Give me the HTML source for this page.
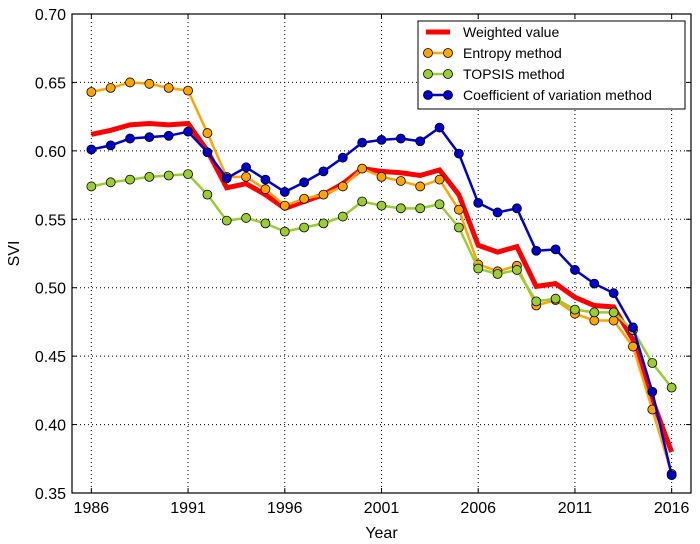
<!DOCTYPE html>
<html><head><meta charset="utf-8"><style>
html,body{margin:0;padding:0;background:#fff;}
svg{display:block;font-family:"Liberation Sans","DejaVu Sans",sans-serif;}
</style></head><body>
<svg id="chart" width="700" height="544" viewBox="0 0 700 544"></svg>
<script>
const years = [1986,1987,1988,1989,1990,1991,1992,1993,1994,1995,1996,1997,1998,1999,2000,2001,2002,2003,2004,2005,2006,2007,2008,2009,2010,2011,2012,2013,2014,2015,2016];
const weighted = [0.612,0.615,0.619,0.620,0.619,0.620,0.600,0.573,0.576,0.568,0.558,0.563,0.568,0.576,0.587,0.585,0.584,0.582,0.586,0.568,0.531,0.526,0.530,0.501,0.503,0.493,0.487,0.486,0.462,0.418,0.380];
const entropy = [0.643,0.646,0.650,0.649,0.646,0.644,0.613,0.581,0.581,0.572,0.560,0.565,0.568,0.574,0.587,0.581,0.578,0.574,0.579,0.557,0.517,0.512,0.516,0.487,0.491,0.481,0.476,0.476,0.457,0.411,0.364];
const topsis = [0.574,0.577,0.579,0.581,0.582,0.583,0.568,0.549,0.551,0.547,0.541,0.544,0.547,0.552,0.563,0.560,0.558,0.558,0.561,0.544,0.514,0.510,0.513,0.490,0.492,0.484,0.482,0.482,0.469,0.445,0.427];
const cv = [0.601,0.604,0.609,0.610,0.611,0.614,0.599,0.580,0.588,0.579,0.570,0.577,0.585,0.595,0.606,0.608,0.609,0.607,0.617,0.598,0.562,0.555,0.558,0.527,0.528,0.513,0.503,0.496,0.471,0.424,0.363];
const xTicks = [1986,1991,1996,2001,2006,2011,2016];
const yTicks = [0.35,0.40,0.45,0.50,0.55,0.60,0.65,0.70];

const NS='http://www.w3.org/2000/svg';
const svg=document.getElementById('chart');
const L=72,R=691,T=14,B=493, X0=1985,X1=2017,Y0=0.35,Y1=0.70;
const xs=v=>L+(v-X0)/(X1-X0)*(R-L);
const ys=v=>B-(v-Y0)/(Y1-Y0)*(B-T);
function mk(tag,attrs,parent){const e=document.createElementNS(NS,tag);for(const k in attrs)e.setAttribute(k,attrs[k]);(parent||svg).appendChild(e);return e;}

const grid=mk('g',{});


xTicks.forEach(t=>{
  mk('line',{x1:xs(t),x2:xs(t),y1:T,y2:B,stroke:'#000','stroke-width':1,'stroke-dasharray':'1,3'},grid);
  mk('line',{x1:xs(t),x2:xs(t),y1:B,y2:B-5,stroke:'#000'},grid);
  mk('line',{x1:xs(t),x2:xs(t),y1:T,y2:T+5,stroke:'#000'},grid);
  const tx=mk('text',{x:xs(t),y:B+20,'text-anchor':'middle','font-size':16});
  tx.textContent=t;
  
  
});
yTicks.forEach(t=>{
  if(t>Y0&&t<Y1) mk('line',{x1:L,x2:R,y1:ys(t),y2:ys(t),stroke:'#000','stroke-width':1,'stroke-dasharray':'1,3'},grid);
  mk('line',{x1:L,x2:L+5,y1:ys(t),y2:ys(t),stroke:'#000'},grid);
  mk('line',{x1:R,x2:R-5,y1:ys(t),y2:ys(t),stroke:'#000'},grid);
  const tx=mk('text',{x:L-6,y:ys(t)+6,'text-anchor':'end','font-size':16});
  tx.textContent=t.toFixed(2);
  
  
});

function series(vals,color,width,marker,name){
  const g=mk('g',{});
  
  
  const pts=vals.map((v,i)=>xs(years[i])+','+ys(v)).join(' ');
  mk('polyline',{points:pts,fill:'none',stroke:color,'stroke-width':width,'stroke-linejoin':'miter'},g);
  if(marker) vals.forEach((v,i)=>{
    const c=mk('circle',{cx:xs(years[i]),cy:ys(v),r:4.5,fill:color,stroke:'#000','stroke-width':0.8},g);
    
    
  });
}
series(weighted,'#ff0000',5,false,'weighted-value-line');
series(entropy,'#ffa500',2.5,true,'entropy-method-line');
series(topsis,'#9acd32',2.5,true,'topsis-method-line');
series(cv,'#0000cd',2.5,true,'coefficient-of-variation-line');

const frame=mk('rect',{x:L,y:T,width:R-L,height:B-T,fill:'none',stroke:'#000','stroke-width':1.2});



const xl=mk('text',{x:(L+R)/2,y:538,'text-anchor':'middle','font-size':16});
xl.textContent='Year';


const yl=mk('text',{x:0,y:0,'text-anchor':'middle','font-size':16,transform:'translate(19,'+((T+B)/2)+') rotate(-90)'});
yl.textContent='SVI';



const lg=mk('g',{});


mk('rect',{x:418,y:21,width:267,height:88,fill:'#fff',stroke:'#000','stroke-width':1},lg);
const entries=[['Weighted value','#ff0000',false],['Entropy method','#ffa500',true],['TOPSIS method','#9acd32',true],['Coefficient of variation method','#0000cd',true]];
entries.forEach((e,i)=>{
  const y=32+i*21;
  const eg=mk('g',{},lg);
  
  
  mk('line',{x1:426,x2:450,y1:y,y2:y,stroke:e[1],'stroke-width':e[2]?2.5:5},eg);
  if(e[2]){mk('circle',{cx:428,cy:y,r:4.5,fill:e[1],stroke:'#000','stroke-width':0.8},eg);mk('circle',{cx:448,cy:y,r:4.5,fill:e[1],stroke:'#000','stroke-width':0.8},eg);}
  const t=mk('text',{x:463,y:y+5,'font-size':14},eg);
  t.textContent=e[0];
});
</script>
</body></html>
